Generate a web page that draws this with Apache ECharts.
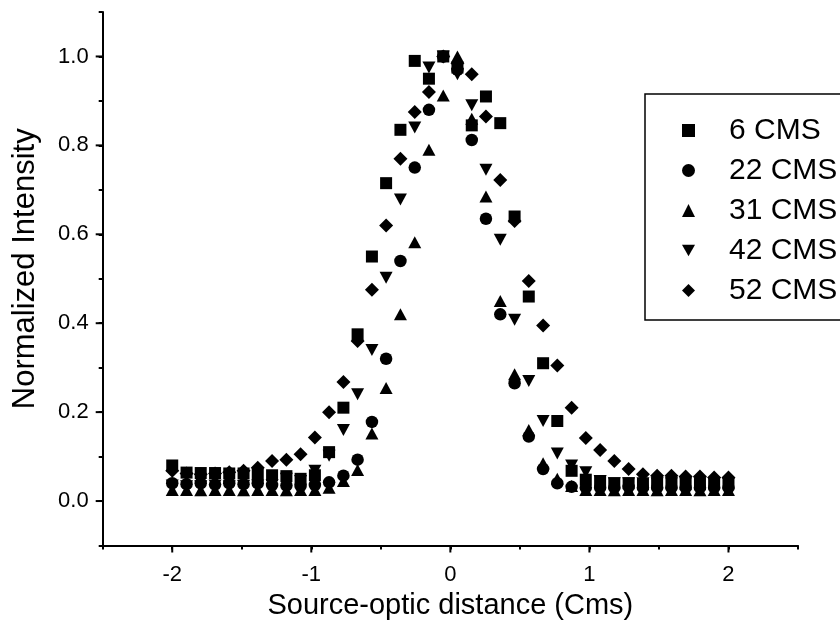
<!DOCTYPE html>
<html>
<head>
<meta charset="utf-8">
<script src="https://cdn.jsdelivr.net/npm/echarts@6/dist/echarts.min.js"></script>
<style>
  html, body { margin: 0; padding: 0; background: #fff; }
  #chart { width: 840px; height: 632px; }
</style>
</head>
<body>
<div id="chart"></div>
<script>
// Sample positions (Source-optic distance, Cms)
const xs = [-2.000, -1.897, -1.795, -1.692, -1.590, -1.487, -1.385, -1.282, -1.179, -1.077,
            -0.974, -0.872, -0.769, -0.667, -0.564, -0.462, -0.359, -0.256, -0.154, -0.051,
             0.051,  0.154,  0.256,  0.359,  0.462,  0.564,  0.667,  0.769,  0.872,  0.974,
             1.077,  1.179,  1.282,  1.385,  1.487,  1.590,  1.692,  1.795,  1.897,  2.000];

const seriesNames = ['6 CMS', '22 CMS', '31 CMS', '42 CMS', '52 CMS'];

const cms6  = [0.080, 0.064, 0.063, 0.063, 0.062, 0.062, 0.060, 0.058, 0.056, 0.050,
               0.058, 0.110, 0.210, 0.375, 0.550, 0.715, 0.835, 0.990, 0.950, 1.000,
               0.975, 0.845, 0.910, 0.850, 0.640, 0.460, 0.310, 0.180, 0.068, 0.048,
               0.045, 0.040, 0.040, 0.038, 0.040, 0.040, 0.038, 0.038, 0.040, 0.040];
const cms22 = [0.040, 0.038, 0.040, 0.037, 0.040, 0.038, 0.040, 0.036, 0.035, 0.034,
               0.036, 0.042, 0.057, 0.093, 0.178, 0.320, 0.540, 0.750, 0.880, 1.000,
               0.970, 0.812, 0.635, 0.420, 0.265, 0.145, 0.072, 0.040, 0.032, 0.030,
               0.030, 0.030, 0.032, 0.030, 0.030, 0.030, 0.030, 0.030, 0.030, 0.030];
const cms31 = [0.025, 0.025, 0.024, 0.025, 0.025, 0.024, 0.025, 0.025, 0.024, 0.025,
               0.025, 0.030, 0.045, 0.070, 0.152, 0.254, 0.420, 0.582, 0.790, 0.912,
               1.000, 0.860, 0.685, 0.450, 0.285, 0.160, 0.085, 0.050, 0.034, 0.025,
               0.025, 0.024, 0.025, 0.025, 0.024, 0.025, 0.025, 0.024, 0.025, 0.025];
const cms42 = [0.035, 0.033, 0.033, 0.035, 0.033, 0.034, 0.035, 0.036, 0.050, 0.045,
               0.068, 0.102, 0.160, 0.240, 0.340, 0.502, 0.678, 0.840, 0.975, 1.000,
               0.960, 0.890, 0.745, 0.588, 0.408, 0.270, 0.180, 0.107, 0.080, 0.065,
               0.045, 0.040, 0.040, 0.040, 0.040, 0.040, 0.040, 0.040, 0.040, 0.040];
const cms52 = [0.068, 0.062, 0.060, 0.062, 0.065, 0.068, 0.075, 0.090, 0.093, 0.105,
               0.143, 0.200, 0.268, 0.360, 0.475, 0.620, 0.770, 0.875, 0.920, 1.000,
               0.985, 0.960, 0.865, 0.722, 0.630, 0.495, 0.395, 0.305, 0.210, 0.142,
               0.115, 0.090, 0.072, 0.060, 0.057, 0.057, 0.055, 0.055, 0.053, 0.053];

// Axis ranges / labelled (major) tick values
const xRange = [-2.5, 2.5];
const yRange = [-0.1, 1.1];
const xMajorTicks = [-2, -1, 0, 1, 2];
const yMajorTicks = [0.0, 0.2, 0.4, 0.6, 0.8, 1.0];

const allValues = [cms6, cms22, cms31, cms42, cms52];
const symbols = ['rect', 'circle', 'triangle', 'path://M0,0L2,0L1,1.75Z', 'diamond'];
const symbolSizes = [12, 12.5, [13, 12], [13, 12], 14];

const FONT = 'Liberation Sans, Arial, sans-serif';
const chart = echarts.init(document.getElementById('chart'), null, { renderer: 'canvas' });

const W = 840, H = 632;
const PL = 102.7, PR = 42, PT = 12, PB = 86.5;
const MAJOR_LEN = 7;

const series = seriesNames.map((name, i) => ({
  name: name,
  type: 'scatter',
  xAxisIndex: 0,
  yAxisIndex: 0,
  symbol: symbols[i],
  symbolSize: symbolSizes[i],
  itemStyle: { color: '#000', opacity: 1 },
  emphasis: { disabled: true },
  data: xs.map((x, k) => [x, allValues[i][k]])
}));

const legendBox = {
  type: 'rect',
  shape: { x: 645, y: 94, width: 200, height: 226 },
  style: { fill: 'none', stroke: '#000', lineWidth: 1.5 },
  silent: true
};

const option = {
  animation: false,
  backgroundColor: '#fff',
  grid: { left: PL, right: PR, top: PT, bottom: PB },
  xAxis: {
    type: 'value', min: xRange[0], max: xRange[1], interval: 0.5,
    name: 'Source-optic distance (Cms)', nameLocation: 'middle', nameGap: 46,
    nameTextStyle: { fontFamily: FONT, fontSize: 29, color: '#000' },
    axisLine: { show: true, onZero: false, lineStyle: { color: '#000', width: 2 } },
    axisTick: { show: true, inside: false, length: 4, lineStyle: { color: '#000', width: 2 } },
    axisLabel: { show: true, margin: 18, fontFamily: FONT, fontSize: 22, color: '#000',
                 formatter: v => (Math.abs(v - Math.round(v)) < 1e-6 ? String(Math.round(v)) : '') },
    splitLine: { show: false }
  },
  yAxis: {
    type: 'value', min: yRange[0], max: yRange[1], interval: 0.1,
    name: 'Normalized Intensity', nameLocation: 'middle', nameGap: 62,
    nameTextStyle: { fontFamily: FONT, fontSize: 31, color: '#000', padding: [0, 0, 0, 20] },
    axisLine: { show: true, onZero: false, lineStyle: { color: '#000', width: 2 } },
    axisTick: { show: true, inside: false, length: 4, lineStyle: { color: '#000', width: 2 } },
    axisLabel: { show: true, margin: 14, fontFamily: FONT, fontSize: 22, color: '#000',
                 formatter: v => { const t = Math.round(v * 10); return (t >= 0 && t <= 10 && t % 2 === 0) ? (t / 10).toFixed(1) : ''; } },
    splitLine: { show: false }
  },
  legend: {
    show: true,
    orient: 'vertical',
    left: 677,
    top: 110,
    itemWidth: 13,
    itemHeight: 13,
    itemGap: 9,
    selectedMode: false,
    textStyle: { fontFamily: FONT, fontSize: 30, color: '#000', lineHeight: 31, padding: [0, 0, 0, 29] },
    data: seriesNames.map((n, i) => ({ name: n, icon: symbols[i], itemStyle: { color: '#000', opacity: 1 } }))
  },
  graphic: [legendBox],
  series: series
};

chart.setOption(option);

// Longer major ticks at the labelled values, positioned through the axis scales
const axisY = H - PB;
const axisX = PL;
const majorTickGraphics = [];
xMajorTicks.forEach(v => {
  const px = chart.convertToPixel({ xAxisIndex: 0 }, v);
  majorTickGraphics.push({
    type: 'line', silent: true, z: 10,
    shape: { x1: px, y1: axisY, x2: px, y2: axisY + MAJOR_LEN },
    style: { stroke: '#000', lineWidth: 2 }
  });
});
yMajorTicks.forEach(v => {
  const py = chart.convertToPixel({ yAxisIndex: 0 }, v);
  majorTickGraphics.push({
    type: 'line', silent: true, z: 10,
    shape: { x1: axisX - MAJOR_LEN, y1: py, x2: axisX, y2: py },
    style: { stroke: '#000', lineWidth: 2 }
  });
});
chart.setOption({ graphic: [legendBox].concat(majorTickGraphics) });
</script>
</body>
</html>
